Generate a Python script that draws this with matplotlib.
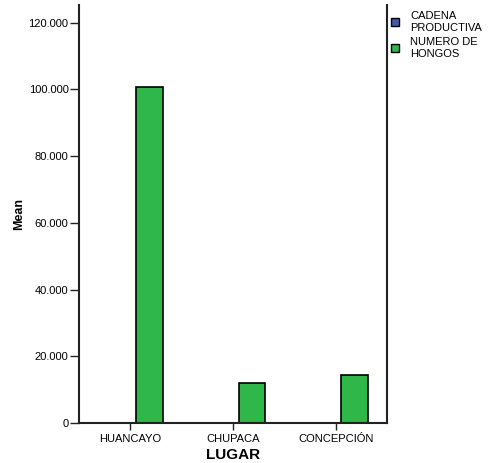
import matplotlib
matplotlib.use("Agg")
import matplotlib.pyplot as plt
from matplotlib.patches import Patch
from matplotlib.ticker import FuncFormatter
import numpy as np

plt.rcParams['font.family'] = ['Liberation Sans', 'DejaVu Sans']

# data
lugares = ["HUANCAYO", "CHUPACA", "CONCEPCIÓN"]
cadena_productiva = [0, 0, 0]
numero_hongos = [100800, 11850, 14400]
series_labels = ["CADENA\nPRODUCTIVA", "NUMERO DE\nHONGOS"]
yticks = [0, 20000, 40000, 60000, 80000, 100000, 120000]

BLUE = "#3f5aa8"
GREEN = "#2fb74a"

fig = plt.figure(figsize=(4.91, 4.63), dpi=100)
ax = fig.add_axes([79 / 491, 1 - 423 / 463, (387 - 79) / 491, (423 - 5) / 463])

x = np.arange(len(lugares))
w = 0.258
off = 0.185
ax.bar(x - off, cadena_productiva, w, color=BLUE, edgecolor="black", linewidth=1.2)
ax.bar(x + off, numero_hongos, w, color=GREEN, edgecolor="black", linewidth=1.2)

ax.set_xlim(-0.5, 2.5)
ax.set_ylim(0, 125300)
ax.set_yticks(yticks)
ax.yaxis.set_major_formatter(FuncFormatter(lambda v, p: f"{int(v):,}".replace(",", ".")))
ax.set_xticks(x)
ax.set_xticklabels(lugares)
ax.tick_params(axis="y", labelsize=8, length=6.5, width=1, color="#222222", direction="out", pad=1)
ax.tick_params(axis="x", labelsize=8, length=5, width=1, color="#222222", direction="out", pad=3)

ax.spines["top"].set_visible(False)
for s in ["left", "bottom", "right"]:
    ax.spines[s].set_linewidth(1.5)
    ax.spines[s].set_color("#222222")

ax.set_ylabel("Mean", fontsize=9, fontweight="bold", labelpad=2.5)
ax.set_xlabel("LUGAR", fontsize=11, fontweight="bold", labelpad=2.5)

handles = [Patch(facecolor=BLUE, edgecolor="black", linewidth=1),
           Patch(facecolor=GREEN, edgecolor="black", linewidth=1)]
fig.legend(handles, series_labels, loc="upper left", bbox_to_anchor=(391 / 491, 1 - 11 / 463),
           frameon=False, fontsize=8, handlelength=0.7, handleheight=0.7,
           handletextpad=1.0, labelspacing=0.4, borderaxespad=0, borderpad=0)

fig.savefig("out.png", dpi=100)
